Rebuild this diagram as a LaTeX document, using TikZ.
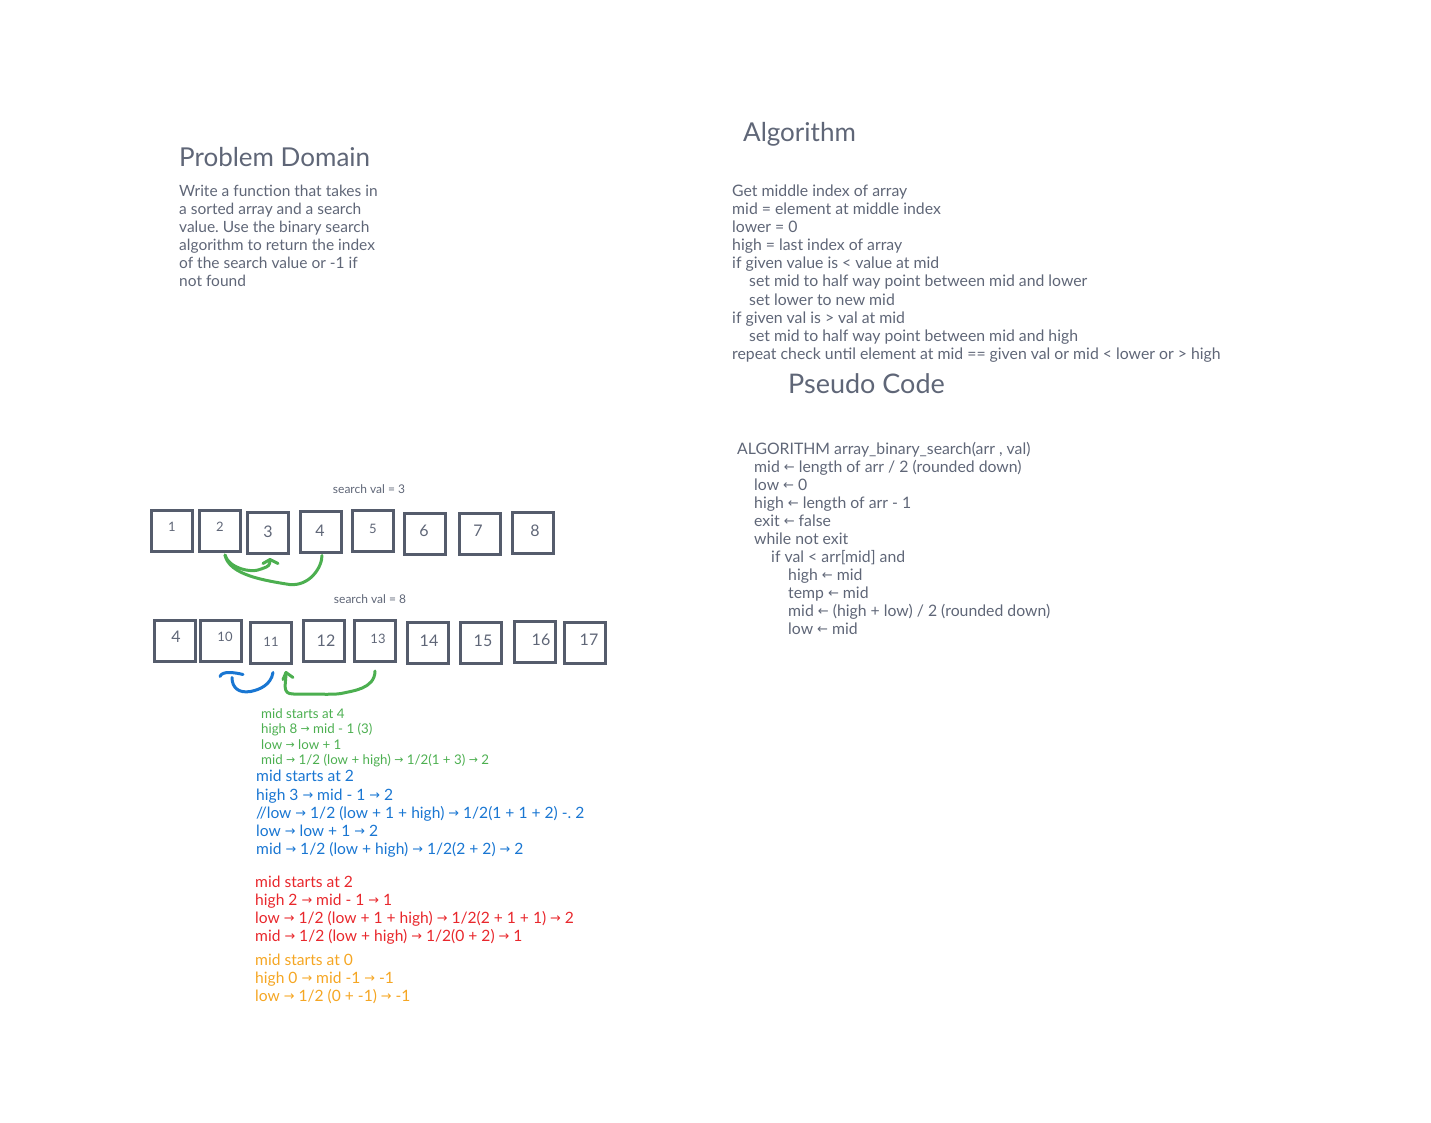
\documentclass[tikz,border=0pt]{standalone}
\usepackage{fontspec}
\setmainfont{Lato}
\newfontfamily\dvfont{DejaVu Sans}
\usetikzlibrary{arrows.meta,calc}
\frenchspacing
\newcommand{\ra}{\raisebox{0.05em}{\scalebox{0.82}{\dvfont →}}}
\newcommand{\la}{\raisebox{0.05em}{\scalebox{0.82}{\dvfont ←}}}
\definecolor{txtc}{HTML}{5F6677}
\definecolor{boxc}{HTML}{555C6C}
\definecolor{grn}{HTML}{4CAF50}
\definecolor{blu}{HTML}{1976D2}
\definecolor{redc}{HTML}{E8272C}
\definecolor{orn}{HTML}{F5A623}
\tikzset{
  x=1pt,y=-1pt,
  cell/.style={draw=boxc,line width=3pt,minimum width=41pt,minimum height=41pt,inner sep=0pt},
  num/.style={text=txtc,font=\fontsize{16}{16}\selectfont,inner sep=0pt},
  nums/.style={text=txtc,font=\fontsize{13}{13}\selectfont,inner sep=0pt},
  title/.style={text=txtc,font=\fontsize{26}{26}\selectfont,anchor=base west,inner sep=0pt},
  pbody/.style={text=txtc,font=\fontsize{15.5}{18}\selectfont,anchor=base west,inner sep=0pt},
  body/.style={text=txtc,font=\fontsize{15.8}{18}\selectfont,anchor=base west,inner sep=0pt},
  small/.style={text=txtc,font=\fontsize{12}{12}\selectfont,inner sep=0pt},
  gline/.style={text=grn,font=\fontsize{13.3}{15}\selectfont,anchor=base west,inner sep=0pt},
  bline/.style={text=blu,font=\fontsize{15.6}{18}\selectfont,anchor=base west,inner sep=0pt},
  rline/.style={text=redc,font=\fontsize{15.6}{18}\selectfont,anchor=base west,inner sep=0pt},
  oline/.style={text=orn,font=\fontsize{15.6}{18}\selectfont,anchor=base west,inner sep=0pt},
  hand/.style={line width=3pt,line cap=round,line join=round},
}
\begin{document}
\begin{tikzpicture}
\useasboundingbox (0,0) rectangle (1431,1123);
% Problem domain
\node[title] (t1) at (179,167) {Problem Domain};
\node[pbody] (p1) at (179,197) {Write a function that takes in};
\node[pbody] (p2) at (179,215) {a sorted array and a search};
\node[pbody] (p3) at (179,233) {value. Use the binary search};
\node[pbody] (p4) at (179,251) {algorithm to return the index};
\node[pbody] (p5) at (179,269) {of the search value or -1 if};
\node[pbody] (p6) at (179,287) {not found};
% Algorithm
\node[title] (t2) at (743,142) {Algorithm};
\node[body] (a1) at (732,197) {Get middle index of array};
\node[body] (a2) at (732,215) {mid = element at middle index};
\node[body] (a3) at (732,233) {lower = 0};
\node[body] (a4) at (732,251) {high = last index of array};
\node[body] (a5) at (732,269) {if given value is < value at mid};
\node[body] (a6) at (749,287) {set mid to half way point between mid and lower};
\node[body] (a7) at (749,305) {set lower to new mid};
\node[body] (a8) at (732,323) {if given val is > val at mid};
\node[body] (a9) at (749,341) {set mid to half way point between mid and high};
\node[body] (a10) at (732,359) {repeat check until element at mid == given val or mid < lower or > high};
% Pseudo code
\node[title,font=\fontsize{27}{27}\selectfont] (t3) at (788,393) {Pseudo Code};
\node[body] (c1) at (737,454) {ALGORITHM array\_binary\_search(arr , val)};
\node[body] (c2) at (754,472) {mid \la{} length of arr / 2 (rounded down)};
\node[body] (c3) at (754,490) {low \la{} 0};
\node[body] (c4) at (754,508) {high \la{} length of arr - 1};
\node[body] (c5) at (754,526) {exit \la{} false};
\node[body] (c6) at (754,544) {while not exit};
\node[body] (c7) at (771,562) {if val < arr[mid] and};
\node[body] (c8) at (788,580) {high \la{} mid};
\node[body] (c9) at (788,598) {temp \la{} mid};
\node[body] (c10) at (788,616) {mid \la{} (high + low) / 2 (rounded down)};
\node[body] (c11) at (788,634) {low \la{} mid};
% Row 1
\node[small] (sv1) at (369,489) {search val = 3};
\node[cell] (b1) at (171.5,531) {};
\node[cell] (b2) at (219.5,531) {};
\node[cell] (b3) at (267.5,532.5) {};
\node[cell] (b4) at (321,531.5) {};
\node[cell] (b5) at (372.5,531) {};
\node[cell] (b6) at (425,533.5) {};
\node[cell] (b7) at (479.5,534) {};
\node[cell] (b8) at (532.5,532.5) {};
\node[nums] (n1) at (172,527) {1};
\node[nums] (n2) at (220,527) {2};
\node[num] (n3) at (268,532) {3};
\node[num] (n4) at (320,531) {4};
\node[nums] (n5) at (373,529) {5};
\node[num] (n6) at (424,531) {6};
\node[num] (n7) at (478,531) {7};
\node[num] (n8) at (535,531) {8};
% Row 2
\node[small] (sv2) at (370,599) {search val = 8};
\node[cell] (c_4) at (174.5,640.5) {};
\node[cell] (c_10) at (221,640.5) {};
\node[cell] (c_11) at (270.5,642.5) {};
\node[cell] (c_12) at (323.5,641) {};
\node[cell] (c_13) at (375,641) {};
\node[cell] (c_14) at (428,643) {};
\node[cell] (c_15) at (481,643) {};
\node[cell] (c_16) at (535,642) {};
\node[cell] (c_17) at (585,642.5) {};
\node[num] (m4) at (176,637) {4};
\node[nums] (m10) at (225,637) {10};
\node[nums] (m11) at (271,642) {11};
\node[num] (m12) at (326,641) {12};
\node[nums] (m13) at (378,639) {13};
\node[num] (m14) at (429,641) {14};
\node[num] (m15) at (483,641) {15};
\node[num] (m16) at (541,640) {16};
\node[num] (m17) at (589,640) {17};
% Row 1 arrows
\draw[hand,grn] ($(b2.south)+(5.5,2)$) .. controls +(3,12) and +(-12,6) .. ($(b3.south)+(-5,14)$) .. controls +(6,-2) and +(0,6) .. ($(b3.south)+(2.5,5)$);
\draw[hand,grn] ($(b3.south)+(-4.5,9)$) -- ($(b3.south)+(2.5,5)$) -- ($(b3.south)+(10.5,9)$);
\draw[hand,grn] ($(b2.south)+(5.5,2)$) .. controls +(4,20) and +(-25,-4) .. ($(b3.south)+(22,30)$) .. controls +(20,2) and +(0,12) .. ($(b4.south)+(1,2)$);
% Row 2 arrows
\draw[hand,blu] ($(c_11.south)+(2.5,8)$) .. controls +(-2,12) and +(10,-2) .. ($(c_11.south)+(-20,27)$) .. controls +(-12,2) and +(0,10) .. ($(c_10.south)+(11,15)$);
\draw[hand,blu] ($(c_10.south)+(-1,14)$) .. controls +(2,-6) and +(-8,-2) .. ($(c_10.south)+(22,12)$);
\draw[hand,grn] ($(c_13.south)+(0,8)$) .. controls +(0,18) and +(8,-2) .. ($(c_12.south)+(20,30)$) .. controls +(-8,2) and +(30,0) .. ($(c_12.south)+(-30,31)$) .. controls +(-12,0) and +(0,12) .. ($(c_11.south)+(15.5,8)$);
\draw[hand,grn] ($(c_11.south)+(12.5,15)$) -- ($(c_11.south)+(15.5,8)$) -- ($(c_11.south)+(22.5,13)$);
% Green trace
\node[gline] (g1) at (261,718) {mid starts at 4};
\node[gline] (g2) at (261,733) {high 8 \ra{} mid - 1 (3)};
\node[gline] (g3) at (261,749) {low \ra{} low + 1};
\node[gline] (g4) at (261,764) {mid \ra{} 1/2 (low + high) \ra{} 1/2(1 + 3) \ra{} 2};
% Blue trace
\node[bline] (bl1) at (256,781) {mid starts at 2};
\node[bline] (bl2) at (256,800) {high 3 \ra{} mid - 1 \ra{} 2};
\node[bline] (bl3) at (256,818) {//low \ra{} 1/2 (low + 1 + high) \ra{} 1/2(1 + 1 + 2) -. 2};
\node[bline] (bl4) at (256,836) {low \ra{} low + 1 \ra{} 2};
\node[bline] (bl5) at (256,854) {mid \ra{} 1/2 (low + high) \ra{} 1/2(2 + 2) \ra{} 2};
% Red trace
\node[rline] (r1) at (255,887) {mid starts at 2};
\node[rline] (r2) at (255,905) {high 2 \ra{} mid - 1 \ra{} 1};
\node[rline] (r3) at (255,923) {low \ra{} 1/2 (low + 1 + high) \ra{} 1/2(2 + 1 + 1) \ra{} 2};
\node[rline] (r4) at (255,941) {mid \ra{} 1/2 (low + high) \ra{} 1/2(0 + 2) \ra{} 1};
% Orange trace
\node[oline] (o1) at (255,965) {mid starts at 0};
\node[oline] (o2) at (255,983) {high 0 \ra{} mid -1 \ra{} -1};
\node[oline] (o3) at (255,1001) {low \ra{} 1/2 (0 + -1) \ra{} -1};
\end{tikzpicture}
\end{document}
